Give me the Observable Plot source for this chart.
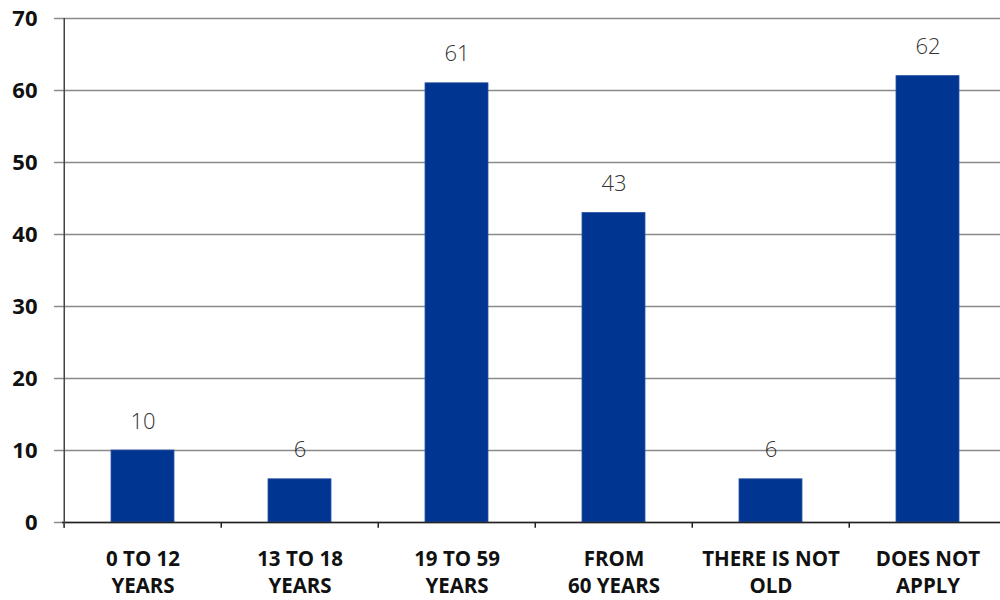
<!DOCTYPE html>
<html>
<head>
<meta charset="utf-8">
<script src="https://cdn.jsdelivr.net/npm/d3@7"></script>
<script src="https://cdn.jsdelivr.net/npm/@observablehq/plot@0.6"></script>
<style>
  html, body { margin: 0; padding: 0; background: #fff; overflow: hidden; }
  #chart svg { display: block; }
</style>
</head>
<body>
<div id="chart"></div>
<script>
const categories = ["0 TO 12\nYEARS", "13 TO 18\nYEARS", "19 TO 59\nYEARS", "FROM\n60 YEARS", "THERE IS NOT\nOLD", "DOES NOT\nAPPLY"];
const values = [10, 6, 61, 43, 6, 62];
const yTicks = [0, 10, 20, 30, 40, 50, 60, 70];

const data = categories.map((c, i) => ({category: c, value: values[i]}));

const width = 1008, marginLeft = 62, marginRight = 1;
const step = (width - marginLeft - marginRight) / categories.length;

const chart = Plot.plot({
  width,
  height: 600,
  marginLeft,
  marginRight,
  marginTop: 18,
  marginBottom: 78,
  style: {fontFamily: "'Open Sans', sans-serif", background: "#fff", overflow: "visible", maxWidth: "none"},
  x: {domain: categories, paddingInner: 0.6, paddingOuter: 0.3, label: null},
  y: {domain: [0, 70], label: null},
  marks: [
    Plot.gridY(yTicks, {stroke: "#8a8a8a", strokeOpacity: 1, strokeWidth: 1.5}),
    Plot.axisY(yTicks, {tickSize: 8, tickPadding: 17, stroke: "#8a8a8a", strokeWidth: 1.5, fontSize: 22, fontWeight: "bold", fill: "#111", label: null}),
    Plot.barY(data, {x: "category", y: "value", fill: "#003591", stroke: "#2f55a6", strokeWidth: 0.8}),
    Plot.ruleY([0], {stroke: "#222", strokeWidth: 1.5}),
    Plot.ruleX(categories, {x: d => d, dx: -step / 2, y1: 0, y2: -0.8, stroke: "#222", strokeWidth: 1.5}),
    Plot.ruleX([categories[0]], {dx: -step / 2, y1: -0.8, y2: 70, stroke: "#444", strokeWidth: 1.5}),
    Plot.axisX({tickSize: 0, tickPadding: 24, fontSize: 20.5, fontWeight: "bold", fill: "#111", lineHeight: 1.32, label: null}),
    Plot.text(data, {x: "category", y: "value", text: d => String(d.value), dy: -29, fontSize: 22, fontWeight: 300, fill: "#333"})
  ]
});
document.getElementById("chart").appendChild(chart);
</script>
</body>
</html>
